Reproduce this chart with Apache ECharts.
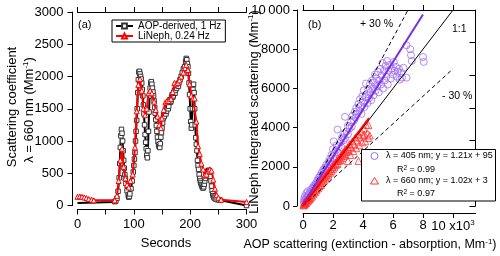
<!DOCTYPE html>
<html><head><meta charset="utf-8">
<script src="https://cdn.jsdelivr.net/npm/echarts@6/dist/echarts.min.js"></script>
<style>html,body{margin:0;padding:0;background:#fff}#c{width:500px;height:256px}</style>
</head><body><div id="c"></div>
<script>
// ---------- panel (a): time series ----------
const aopTime = [0,64,66,68,70,72,74,75,76,77,78,79,80,81,82,83,84,85,86,88,90,91,92,93,95,97,99,100,101,102,103,104,105,106,107,108,109,110,111,112,113,114,115,116,117,118,119,120,121,122,123,124,125,126,127,128,129,130,131,132,133,134,135,136,137,138,139,140,141,142,143,144,145,146,147,148,149,150,151,152,153,154,155,156,157,158,159,160,161,162,163,164,165,166,167,168,169,170,171,172,173,174,175,176,177,178,179,180,182,184,186,188,190,192,193,194,195,196,197,198,199,200,201,202,203,204,205,206,207,208,209,210,211,212,213,214,215,216,217,218,219,220,221,222,223,224,225,226,227,228,229,230,231,232,233,234,235,236,237,238,239,240,241,242,243,245,248,251,254,300];
const aopValue = [40,55,60,70,110,220,430,650,900,1080,1180,1120,1000,850,700,580,480,420,340,230,160,130,140,180,260,380,520,620,720,820,1000,1150,1320,1500,1750,1950,2070,2080,2040,2000,1960,1900,1800,1700,1560,1420,1250,1100,980,880,780,740,850,1150,1450,1700,1820,1900,1920,1880,1820,1760,1700,1620,1520,1430,1330,1240,1150,1060,990,940,910,900,960,1060,1130,1200,1280,1350,1400,1380,1430,1480,1420,1460,1520,1560,1500,1540,1600,1640,1600,1620,1680,1720,1680,1700,1750,1780,1740,1790,1840,1820,1860,1880,1850,1900,1950,2000,2060,2120,2150,2230,2280,2260,2200,2150,2050,1900,1720,1500,1300,1200,1250,1500,1800,1880,1750,1500,1250,1050,950,850,700,620,560,480,420,380,350,320,300,280,270,290,330,380,420,460,490,510,530,540,545,540,510,450,380,300,230,180,150,130,115,100,90,85,80,0];
const linephTime = [0,4,8,12,16,20,25,29,66,70,73,76,79,82,85,88,91,94,98,102,105,108,111,114,117,120,123,126,129,132,136,139,142,145,148,150,153,156,159,162,166,169,172,175,178,181,184,188,191,193,196,199,202,205,208,211,214,217,220,223,226,229,232,235,238,241,244,247,250,255,300];
const linephValue = [135,140,135,125,115,100,90,80,80,150,380,700,880,600,420,320,280,380,480,900,1460,1870,1960,1780,1500,1400,1500,1740,1780,1740,1610,1480,1380,1250,1200,1350,1480,1600,1620,1620,1650,1760,1900,1880,1900,1940,2000,2060,2130,2180,2100,1880,1700,1660,1660,1300,920,800,650,560,470,480,540,560,540,400,260,160,120,90,55];
const timeTicks = [0,100,200,300];

// ---------- panel (b): scatter (x in 10^3 Mm-1, y in Mm-1) ----------
const x405 = [0.05,0.08,0.1,0.12,0.15,0.2,0.22,0.25,0.3,0.32,0.35,0.4,0.45,0.5,0.55,0.6,0.65,0.7,0.75,0.8,0.85,0.9,0.95,1.0,1.05,1.1,1.15,1.2,1.25,1.3,1.35,1.4,1.45,1.5,1.55,1.6,1.7,1.75,1.8,1.85,1.9,2.0,2.0,2.05,2.1,2.2,2.25,2.3,2.3,2.4,2.5,2.55,2.6,2.7,2.75,2.8,2.8,2.9,3.0,3.0,3.1,3.2,3.25,3.3,3.4,3.45,3.5,3.55,3.6,3.7,3.75,3.8,3.85,3.9,3.95,4.0,4.05,4.1,4.15,4.2,4.25,4.3,4.35,4.4,4.45,4.5,4.55,4.6,4.65,4.7,4.75,4.8,4.85,4.9,4.95,5.0,5.05,5.1,5.15,5.2,5.25,5.3,5.35,5.4,5.45,5.5,5.55,5.6,5.65,5.7,5.8,5.85,5.9,6.0,6.05,6.1,6.2,6.25,6.3,6.4,6.45,6.55,6.6,6.7,6.9,6.9,7.15,7.2,7.25,8.0,8.05];
const y405 = [200,350,150,500,300,420,650,380,520,750,450,600,700,640,850,760,950,880,1050,980,1150,1100,1300,1250,1450,1350,1550,1480,1700,1600,1850,1750,1950,1850,2100,2000,2250,2150,2400,2300,2600,2500,2900,3300,2700,2850,3100,2750,3900,3050,3250,3000,3500,3350,3700,3450,4550,3800,3650,4100,3950,4300,4050,4600,4350,4800,4500,5000,4700,5200,4850,5450,5100,4700,5600,5300,5900,5050,5550,6250,5700,5250,5950,5500,6200,5800,5400,6400,6000,5650,6300,6700,5900,6500,6100,6850,5800,6400,7000,6200,6650,7300,6000,6900,6400,7150,6600,7400,6200,6900,7200,6500,7000,6700,7350,6900,7100,6600,6850,7000,6450,6800,6550,7050,6550,8200,8000,7700,7400,7600,7350];
const x660 = [0.03,0.05,0.08,0.1,0.12,0.15,0.18,0.2,0.25,0.28,0.3,0.35,0.4,0.42,0.45,0.5,0.55,0.6,0.62,0.7,0.75,0.8,0.85,0.9,0.95,1.0,1.05,1.1,1.15,1.2,1.25,1.3,1.35,1.4,1.45,1.5,1.55,1.6,1.65,1.7,1.75,1.8,1.85,1.9,1.95,2.0,2.05,2.1,2.15,2.2,2.25,2.3,2.35,2.4,2.45,2.5,2.55,2.6,2.65,2.7,2.75,2.8,2.85,2.9,3.0,3.0,3.05,3.1,3.15,3.2,3.3,3.35,3.4,3.5,3.55,3.6,3.7,3.7,3.75,3.8,3.9,3.95,4.0,4.05,4.1,4.15,4.2,4.3,4.35,4.36,4.45];
const y660 = [30,120,60,200,100,160,260,150,300,220,350,280,420,330,480,400,560,480,650,600,760,700,880,800,980,900,1080,1000,1180,1080,1300,1200,1400,1300,1500,1400,1600,1500,1700,1600,1800,1700,1900,1800,2000,1900,2100,2000,2200,2100,2300,2150,2400,2300,2500,2350,2600,2450,2700,2550,2800,2650,2900,2750,3000,2300,2850,3150,2600,3000,3300,2800,3150,3500,2950,3350,3650,2300,3100,3500,3800,3250,3600,3950,3640,3300,4150,3700,3470,4130,3600];
const fit405X = [0, 8.0], fit405Y = [95, 9775];
const fit660X = [0, 4.4], fit660Y = [3, 4491];
const oneToOneX = [0, 10], oneToOneY = [0, 10000];
const plus30X = [0, 7.0], plus30Y = [0, 10000];
const minus30X = [0, 10], minus30Y = [0, 7000];
const scatTicks = [0, 2, 4, 6, 8, 10];

const F = '"Liberation Sans", Arial, sans-serif';
const zip = (a, b) => a.map((v, i) => [v, b[i]]);
const axisBase = {
  axisLine: {show: true, onZero: false, lineStyle: {color: '#000', width: 1}},
  axisTick: {show: true, length: 5, lineStyle: {color: '#000', width: 1}},
  splitLine: {show: false},
  axisLabel: {color: '#000', fontSize: 13, fontFamily: F}
};
const ax = (o) => Object.assign({}, JSON.parse(JSON.stringify(axisBase)), o);

const aopData = aopTime.map((t, i) => ({
  value: [t, aopValue[i]],
  symbol: (i < 2) ? 'none' : 'rect'
}));

const chart = echarts.init(document.getElementById('c'), null, {renderer: 'canvas'});
const supRich = {sup: {fontSize: 8, fontFamily: F, verticalAlign: 'top', lineHeight: 14, color: '#000'}};

chart.setOption({
  animation: false,
  backgroundColor: '#fff',
  textStyle: {fontFamily: F},
  grid: [
    {left: 77.5, top: 12, width: 169, height: 193.5},
    {left: 303, top: 10, width: 172.5, height: 196}
  ],
  xAxis: [
    ax({gridIndex: 0, type: 'value', min: 0, max: 300, interval: 50, offset: 4,
        axisLabel: {color: '#000', fontSize: 13, fontFamily: F, margin: 8,
          formatter: v => timeTicks.indexOf(v) >= 0 ? String(v) : ''}}),
    ax({gridIndex: 0, type: 'value', position: 'top', min: 0, max: 300, interval: 50,
        axisLabel: {show: false}}),
    ax({gridIndex: 1, type: 'value', min: 0, max: 11.5, offset: 7,
        axisTick: {show: true, length: 5, customValues: scatTicks, lineStyle: {color: '#000'}},
        axisLabel: {color: '#000', fontSize: 13, fontFamily: F, margin: 6, customValues: scatTicks,
          formatter: v => v === 10 ? '10 x10{sup|3}' : String(v), rich: supRich}}),
    ax({gridIndex: 1, type: 'value', position: 'top', min: 0, max: 11.5,
        axisTick: {show: true, length: 5, customValues: scatTicks, lineStyle: {color: '#000'}},
        axisLabel: {show: false}})
  ],
  yAxis: [
    ax({gridIndex: 0, type: 'value', min: 0, max: 3000, interval: 500, offset: 5,
        axisLabel: {color: '#000', fontSize: 13, fontFamily: F, margin: 9, formatter: v => String(v)}}),
    ax({gridIndex: 1, type: 'value', min: 0, max: 10000, interval: 2000, offset: 6,
        axisTick: {show: true, length: 4, lineStyle: {color: '#000'}},
        axisLabel: {color: '#000', fontSize: 13, fontFamily: F, margin: 7,
          formatter: v => v === 10000 ? '10\u2009000' : String(v)}}),
    ax({gridIndex: 1, type: 'value', position: 'right', min: 0, max: 6, interval: 1,
        axisTick: {show: true, inside: true, length: 6, lineStyle: {color: '#000'}},
        axisLabel: {show: false}})
  ],
  legend: {
    data: ['AOP-derived, 1 Hz', 'LiNeph, 0.24 Hz'],
    orient: 'vertical', left: 112, top: 20, itemGap: 0, itemWidth: 17, itemHeight: 6,
    padding: [1, 4, 1, 3], borderColor: '#000', borderWidth: 1, backgroundColor: '#fff',
    textStyle: {fontSize: 10, fontFamily: F, color: '#000'}
  },
  series: [
    {name: 'AOP-derived, 1 Hz', type: 'line', xAxisIndex: 0, yAxisIndex: 0, data: aopData,
     symbol: 'rect', symbolSize: 4.5, showAllSymbol: true,
     lineStyle: {color: '#000', width: 2},
     itemStyle: {color: '#fff', borderColor: '#333', borderWidth: 1}, z: 2},
    {name: 'LiNeph, 0.24 Hz', type: 'line', xAxisIndex: 0, yAxisIndex: 0, data: zip(linephTime, linephValue),
     symbol: 'triangle', symbolSize: 5, showAllSymbol: true,
     lineStyle: {color: '#ff0000', width: 2},
     itemStyle: {color: '#fff', borderColor: '#ff0000', borderWidth: 1}, z: 3},
    {name: '405', type: 'scatter', xAxisIndex: 2, yAxisIndex: 1, data: zip(x405, y405),
     symbol: 'circle', symbolSize: 7,
     itemStyle: {color: 'rgba(0,0,0,0)', borderColor: '#9f6ff0', borderWidth: 1}, z: 2},
    {name: '660', type: 'scatter', xAxisIndex: 2, yAxisIndex: 1, data: zip(x660, y660),
     symbol: 'triangle', symbolSize: 7,
     itemStyle: {color: 'rgba(0,0,0,0)', borderColor: '#ff3030', borderWidth: 1}, z: 3},
    {name: '1:1', type: 'line', xAxisIndex: 2, yAxisIndex: 1, data: zip(oneToOneX, oneToOneY),
     symbol: 'none', lineStyle: {color: '#000', width: 1}, z: 4},
    {name: '+30', type: 'line', xAxisIndex: 2, yAxisIndex: 1, data: zip(plus30X, plus30Y),
     symbol: 'none', lineStyle: {color: '#000', width: 1, type: [4, 3]}, z: 4},
    {name: '-30', type: 'line', xAxisIndex: 2, yAxisIndex: 1, data: zip(minus30X, minus30Y),
     symbol: 'none', lineStyle: {color: '#000', width: 1, type: [4, 3]}, z: 4},
    {name: 'fit405', type: 'line', xAxisIndex: 2, yAxisIndex: 1, data: zip(fit405X, fit405Y),
     symbol: 'none', lineStyle: {color: '#7a2ee6', width: 2}, z: 5},
    {name: 'fit660', type: 'line', xAxisIndex: 2, yAxisIndex: 1, data: zip(fit660X, fit660Y),
     symbol: 'none', lineStyle: {color: '#ff0000', width: 2}, z: 5}
  ],
  graphic: [
    {type: 'text', x: 12, y: 107, rotation: Math.PI / 2,
     style: {text: 'Scattering coefficient', font: '13px ' + F, fill: '#000', align: 'center', verticalAlign: 'middle'}},
    {type: 'text', x: 29, y: 110, rotation: Math.PI / 2,
     style: {text: 'λ = 660 nm (Mm{sup|-1})', font: '13px ' + F, fill: '#000', align: 'center', verticalAlign: 'middle', rich: supRich}},
    {type: 'text', x: 166, y: 243,
     style: {text: 'Seconds', font: '13px ' + F, fill: '#000', align: 'center', verticalAlign: 'middle'}},
    {type: 'text', x: 254, y: 112, rotation: Math.PI / 2,
     style: {text: 'LiNeph integrated scattering (Mm{sup|-1})', font: '13px ' + F, fill: '#000', align: 'center', verticalAlign: 'middle', rich: supRich}},
    {type: 'text', x: 370, y: 245,
     style: {text: 'AOP scattering (extinction - absorption, Mm{sup|-1})', font: '12.5px ' + F, fill: '#000', align: 'center', verticalAlign: 'middle', rich: supRich}},
    {type: 'text', x: 78, y: 25, style: {text: '(a)', font: '11px ' + F, fill: '#000', verticalAlign: 'middle'}},
    {type: 'text', x: 308, y: 25, style: {text: '(b)', font: '11px ' + F, fill: '#000', verticalAlign: 'middle'}},
    {type: 'text', x: 360, y: 24, style: {text: '+ 30 %', font: '10.5px ' + F, fill: '#000', verticalAlign: 'middle'}},
    {type: 'text', x: 452, y: 29, style: {text: '1:1', font: '10.5px ' + F, fill: '#000', verticalAlign: 'middle'}},
    {type: 'text', x: 442, y: 96, style: {text: '- 30 %', font: '10.5px ' + F, fill: '#000', verticalAlign: 'middle'}},
    {type: 'rect', shape: {x: 361.5, y: 149.5, width: 134, height: 51.5}, style: {fill: '#fff', stroke: '#000', lineWidth: 1}, z: 100},
    {type: 'circle', shape: {cx: 374.5, cy: 156, r: 3.5}, style: {fill: 'none', stroke: '#9f6ff0', lineWidth: 1}, z: 101},
    {type: 'polygon', shape: {points: [[370.5, 184], [378.5, 184], [374.5, 177.5]]}, style: {fill: 'none', stroke: '#ff3030', lineWidth: 1}, z: 101},
    {type: 'text', x: 386, y: 156, z: 101, style: {text: 'λ = 405 nm; y = 1.21x + 95', font: '9px ' + F, fill: '#000', verticalAlign: 'middle'}},
    {type: 'text', x: 397, y: 170, z: 101, style: {text: 'R{s|2} = 0.99', font: '9px ' + F, fill: '#000', verticalAlign: 'middle', rich: {s: {fontSize: 6.5, verticalAlign: 'top', lineHeight: 11}}}},
    {type: 'text', x: 386, y: 181, z: 101, style: {text: 'λ = 660 nm; y = 1.02x + 3', font: '9px ' + F, fill: '#000', verticalAlign: 'middle'}},
    {type: 'text', x: 397, y: 194, z: 101, style: {text: 'R{s|2} = 0.97', font: '9px ' + F, fill: '#000', verticalAlign: 'middle', rich: {s: {fontSize: 6.5, verticalAlign: 'top', lineHeight: 11}}}}
  ]
});
</script></body></html>
